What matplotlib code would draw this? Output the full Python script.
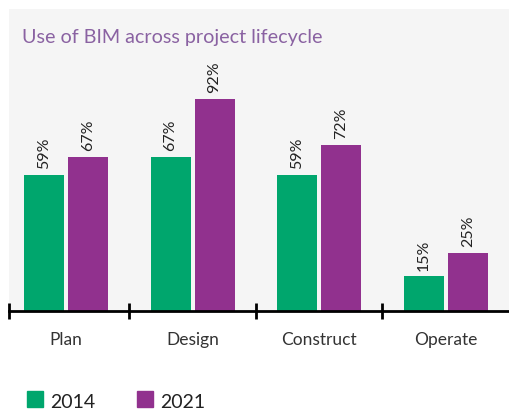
import numpy as np
import matplotlib.pyplot as plt
from matplotlib.patches import Rectangle

plt.rcParams['font.family'] = ['Lato', 'DejaVu Sans']

# datos
etapas = ['Plan', 'Design', 'Construct', 'Operate']
val_2014 = [59, 67, 59, 15]
val_2021 = [67, 92, 72, 25]
anios = ['2014', '2021']

verde = '#00a66d'
morado = '#91318e'

fig = plt.figure(figsize=(5.09, 4.10), dpi=100)

ax = fig.add_axes([9/509, 1-312/410, 500/509, 302/410])
ax.set_facecolor('#f5f5f5')

x = np.arange(len(etapas))
w = 0.316
off = 0.174
b1 = ax.bar(x - off, val_2014, w, color=verde)
b2 = ax.bar(x + off, val_2021, w, color=morado)

for barras, vals in [(b1, val_2014), (b2, val_2021)]:
    for b, v in zip(barras, vals):
        ax.text(b.get_x() + b.get_width()/2, v + 3, f'{v}%', rotation=90,
                ha='center', va='bottom', fontsize=11.5, color='#222222')

ax.set_xlim(-0.45, 3.5)
ax.set_ylim(0, 131)
for s in ['top', 'right', 'left']:
    ax.spines[s].set_visible(False)
ax.spines['bottom'].set_linewidth(2)
ax.set_yticks([])
ax.set_xticks([-0.45, 0.5, 1.5, 2.5])
ax.set_xticklabels([])
ax.tick_params(axis='x', direction='inout', length=11, width=2)
for xi, et in zip(x, etapas):
    ax.text(xi, -12, et, ha='center', va='center', fontsize=12.5, color='#333333')

fig.text(22/509, 1-37/410, 'Use of BIM across project lifecycle', fontsize=14.2,
         color='#8a62a2', va='center', ha='left')

# leyenda manual
for px, col, lab in [(27, verde, anios[0]), (137, morado, anios[1])]:
    fig.patches.append(Rectangle((px/509, 1-408/410), 16/509, 16/410,
                                 transform=fig.transFigure, color=col))
    fig.text((px+23)/509, 1-403/410, lab, fontsize=14, color='#222222',
             va='center', ha='left')

fig.savefig('out.png', dpi=100)
